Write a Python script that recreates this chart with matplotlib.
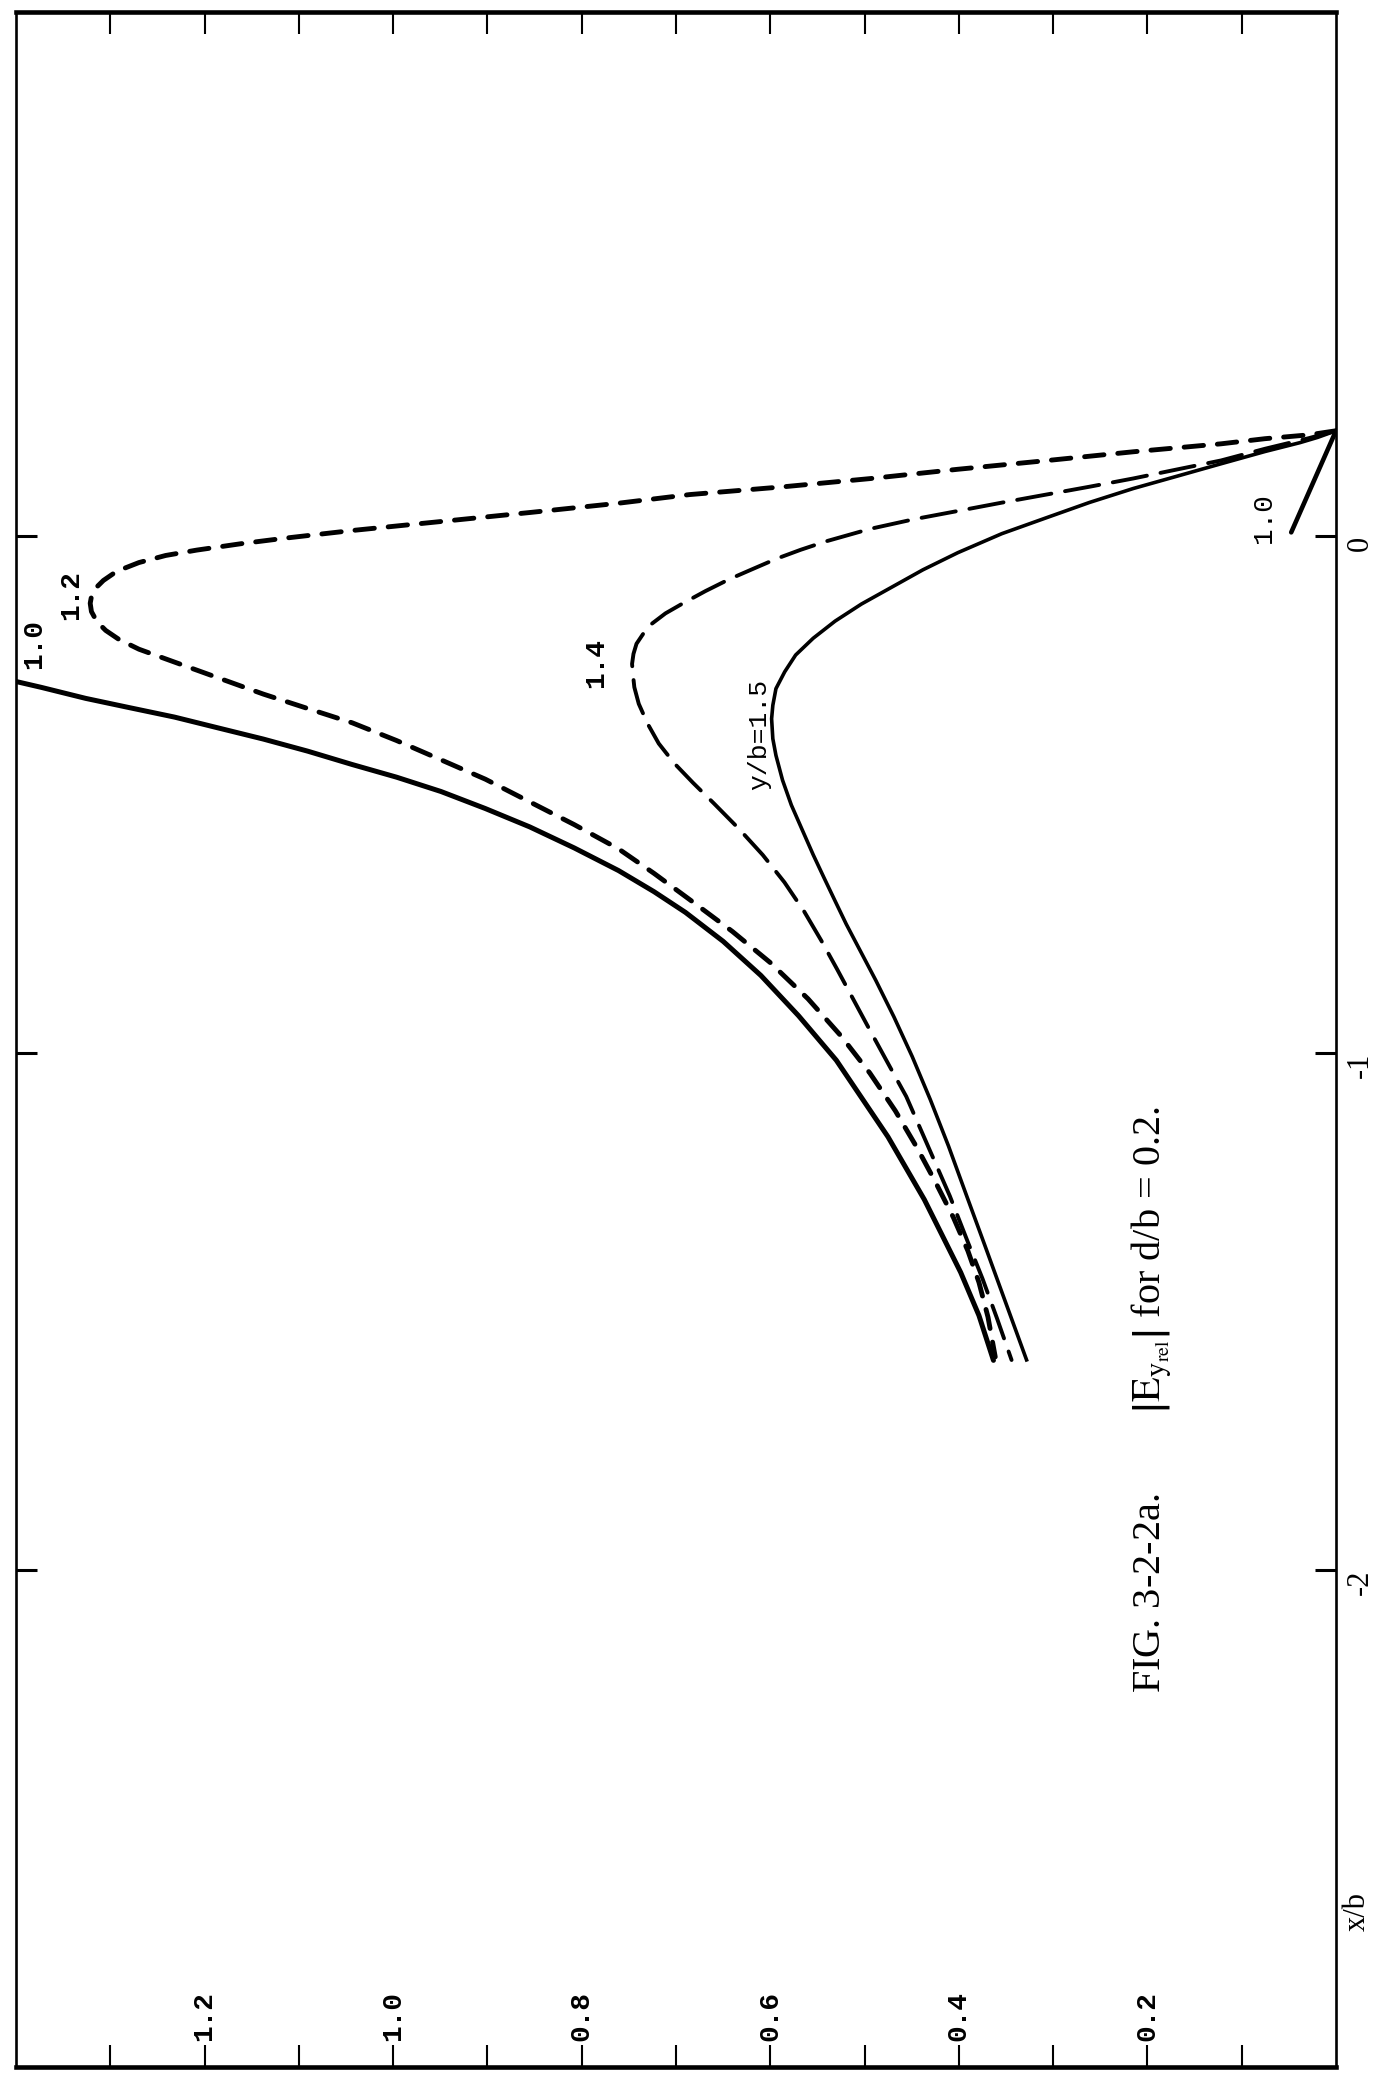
import matplotlib
matplotlib.use("Agg")
import matplotlib.pyplot as plt

# |E_yrel| runs along the horizontal axis (increasing to the left),
# x/b runs along the vertical axis (page is turned on its side)

# y/b = 1.0 (solid, heavy)
e_10 = [1.4006, 1.3732, 1.3261, 1.2790, 1.2319, 1.1848, 1.1377, 1.0906, 1.0435, 0.9964,
        0.9493, 0.9022, 0.8551, 0.8080, 0.7609, 0.7233, 0.6900, 0.6500, 0.6100, 0.5700,
        0.5300, 0.4752, 0.4366, 0.4173, 0.3981, 0.3787, 0.3633]
xb_10 = [-0.2812, -0.2928, -0.3141, -0.3323, -0.3503, -0.3716, -0.3928, -0.4162, -0.4420, -0.4665,
         -0.4942, -0.5272, -0.5627, -0.6033, -0.6472, -0.6880, -0.7280, -0.7840, -0.8500, -0.9280,
         -1.0140, -1.1621, -1.2836, -1.3540, -1.4242, -1.5077, -1.5945]

# short y/b = 1.0 piece near the right edge
e_10b = [0.0, 0.0475]
xb_10b = [0.2035, 0.007]

# y/b = 1.2 (short dashes)
e_12 = [0.0, 0.0288, 0.0753, 0.1218, 0.2149, 0.3083, 0.4013, 0.4942, 0.5871, 0.6855,
        0.7609, 0.8551, 0.9493, 1.0435, 1.1141, 1.1612, 1.2083, 1.2413, 1.2696, 1.2931,
        1.3073, 1.3157, 1.3200, 1.3213, 1.3200, 1.3143, 1.3049, 1.2907, 1.2696, 1.2319,
        1.1848, 1.1377, 1.0906, 1.0435, 0.9964, 0.9493, 0.9022, 0.8551, 0.8080, 0.7609,
        0.7233, 0.6855, 0.6400, 0.6000, 0.5600, 0.5250, 0.4944, 0.4674, 0.4443, 0.4250,
        0.4058, 0.3904, 0.3787, 0.3691, 0.3614]
xb_12 = [0.2035, 0.1956, 0.1882, 0.1783, 0.1629, 0.1456, 0.1290, 0.1110, 0.0950, 0.0801,
         0.0634, 0.0454, 0.0280, 0.0106, -0.0041, -0.0149, -0.0273, -0.0377, -0.0514, -0.0682,
         -0.0860, -0.1011, -0.1172, -0.1302, -0.1462, -0.1654, -0.1826, -0.2002, -0.2190, -0.2439,
         -0.2749, -0.3058, -0.3337, -0.3613, -0.3956, -0.4329, -0.4704, -0.5143, -0.5582, -0.6052,
         -0.6526, -0.7033, -0.7652, -0.8252, -0.8952, -0.9670, -1.0389, -1.1118, -1.1834, -1.2490,
         -1.3181, -1.3828, -1.4436, -1.5108, -1.5878]

# y/b = 1.4 (long dashes)
e_14 = [0.0, 0.0288, 0.0753, 0.1219, 0.1683, 0.2149, 0.2614, 0.3079, 0.3544, 0.4010,
        0.4474, 0.4940, 0.5404, 0.5678, 0.5930, 0.6183, 0.6435, 0.6688, 0.6924, 0.7112,
        0.7254, 0.7348, 0.7419, 0.7451, 0.7466, 0.7457, 0.7442, 0.7395, 0.7301, 0.7183,
        0.7018, 0.6820, 0.6600, 0.6335, 0.6080, 0.5850, 0.5640, 0.5460, 0.5290, 0.4944,
        0.4713, 0.4558, 0.4327, 0.4096, 0.3904, 0.3749, 0.3595, 0.3441]
xb_14 = [0.2035, 0.1892, 0.1687, 0.1461, 0.1288, 0.1113, 0.0953, 0.0799, 0.0645, 0.0484,
         0.0325, 0.0138, -0.0101, -0.0267, -0.0437, -0.0636, -0.0836, -0.1066, -0.1300, -0.1497,
         -0.1694, -0.1892, -0.2085, -0.2280, -0.2474, -0.2667, -0.2925, -0.3246, -0.3631, -0.4014,
         -0.4397, -0.4773, -0.5169, -0.5659, -0.6169, -0.6698, -0.7265, -0.7823, -0.8384, -0.9557,
         -1.0329, -1.0841, -1.1803, -1.2765, -1.3660, -1.4366, -1.5135, -1.5938]

# y/b = 1.5 (solid, light)
e_15 = [0.0, 0.0195, 0.0381, 0.0753, 0.1219, 0.1683, 0.2149, 0.2614, 0.3079, 0.3544,
        0.4010, 0.4381, 0.4708, 0.5033, 0.5312, 0.5545, 0.5731, 0.5847, 0.5940, 0.5973,
        0.5986, 0.5973, 0.5940, 0.5870, 0.5777, 0.5661, 0.5545, 0.5429, 0.5312, 0.5195,
        0.4881, 0.4689, 0.4495, 0.4303, 0.4110, 0.3918, 0.3724, 0.3532, 0.3378, 0.3282]
xb_15 = [0.2035, 0.1907, 0.1806, 0.1634, 0.1397, 0.1158, 0.0919, 0.0649, 0.0348, 0.0045,
         -0.0322, -0.0654, -0.0986, -0.1316, -0.1646, -0.1978, -0.2302, -0.2627, -0.2953, -0.3275,
         -0.3535, -0.3922, -0.4243, -0.4723, -0.5203, -0.5685, -0.6165, -0.6615, -0.7062, -0.7505,
         -0.8595, -0.9300, -1.0068, -1.0901, -1.1799, -1.2760, -1.3723, -1.4685, -1.5455, -1.5936]

e_ticks = [0.1, 0.2, 0.3, 0.4, 0.5, 0.6, 0.7, 0.8, 0.9, 1.0, 1.1, 1.2, 1.3]
e_label_vals = [1.2, 1.0, 0.8, 0.6, 0.4, 0.2]
e_labels = ["1.2", "1.0", "0.8", "0.6", "0.4", "0.2"]
xb_ticks = [0, -1, -2]
xb_labels = ["0", "-1", "-2"]

plt.rcParams['lines.scale_dashes'] = False
plt.rcParams['mathtext.fontset'] = 'stix'

W, H = 1382, 2080
fig = plt.figure(figsize=(W / 100, H / 100), dpi=100)
# frame: 16..1336 px across, 12..2067 px down
ax = fig.add_axes([16 / W, 13 / H, 1320 / W, 2055 / H])
ax.set_xlim(1.4, 0)
ax.set_ylim(-2.9613, 1.0135)

ax.plot(e_10, xb_10, color='black', lw=3.6, solid_capstyle='round', solid_joinstyle='round')
ax.plot(e_10b, xb_10b, color='black', lw=3.3, solid_capstyle='round')
ax.plot(e_12, xb_12, color='black', lw=3.5, dashes=(14, 10), dash_capstyle='round',
        dash_joinstyle='round')
ax.plot(e_14, xb_14, color='black', lw=2.8, dashes=(25, 10), dash_capstyle='round',
        dash_joinstyle='round')
ax.plot(e_15, xb_15, color='black', lw=2.6, solid_joinstyle='round')

# frame and ticks
for s in ['top', 'bottom']:
    ax.spines[s].set_linewidth(3.3)
for s in ['left', 'right']:
    ax.spines[s].set_linewidth(1.9)

ax.set_xticks(e_ticks)
ax.set_yticks(xb_ticks)
ax.tick_params(axis='x', direction='in', top=True, bottom=True, length=16, width=1.5,
               labelbottom=False, labeltop=False)
ax.tick_params(axis='y', direction='in', left=True, right=True, length=15, width=2.2,
               labelleft=False, labelright=False)

mono = 'Liberation Mono'
serif = 'Liberation Serif'

for v, lab in zip(e_label_vals, e_labels):
    ax.text(v, 26 / 2055, lab, transform=ax.get_xaxis_transform(), rotation=90,
            ha='center', va='bottom', fontsize=20, family=mono, fontweight='bold')

for v, lab in zip(xb_ticks, xb_labels):
    ax.text(1 + 10 / 1320, v, lab, transform=ax.get_yaxis_transform(), rotation=90,
            ha='left', va='top', fontsize=22, family=serif)

ax.text(1 + 7 / 1320, -2.66, 'x/b', transform=ax.get_yaxis_transform(), rotation=90,
        ha='left', va='center', fontsize=22, family=serif)

# curve labels
ax.text(1.381, -0.210, '1.0', rotation=90, ha='center', va='center', fontsize=20,
        family=mono, fontweight='bold')
ax.text(1.342, -0.115, '1.2', rotation=90, ha='center', va='center', fontsize=20,
        family=mono, fontweight='bold')
ax.text(0.785, -0.245, '1.4', rotation=90, ha='center', va='center', fontsize=20,
        family=mono, fontweight='bold')
ax.text(0.612, -0.383, 'y/b=1.5', rotation=90, ha='center', va='center', fontsize=19,
        family=mono)
ax.text(0.076, 0.035, '1.0', rotation=90, ha='center', va='center', fontsize=20,
        family=mono)

ax.text(0.195, -1.67,
        r'FIG. 3-2-2a.        $\left|\mathrm{E}_{\mathrm{y}_{\mathrm{rel}}}\right|$ for d/b = 0.2.',
        rotation=90, ha='center', va='center', fontsize=29, family=serif)

fig.savefig('out.png', dpi=100)
